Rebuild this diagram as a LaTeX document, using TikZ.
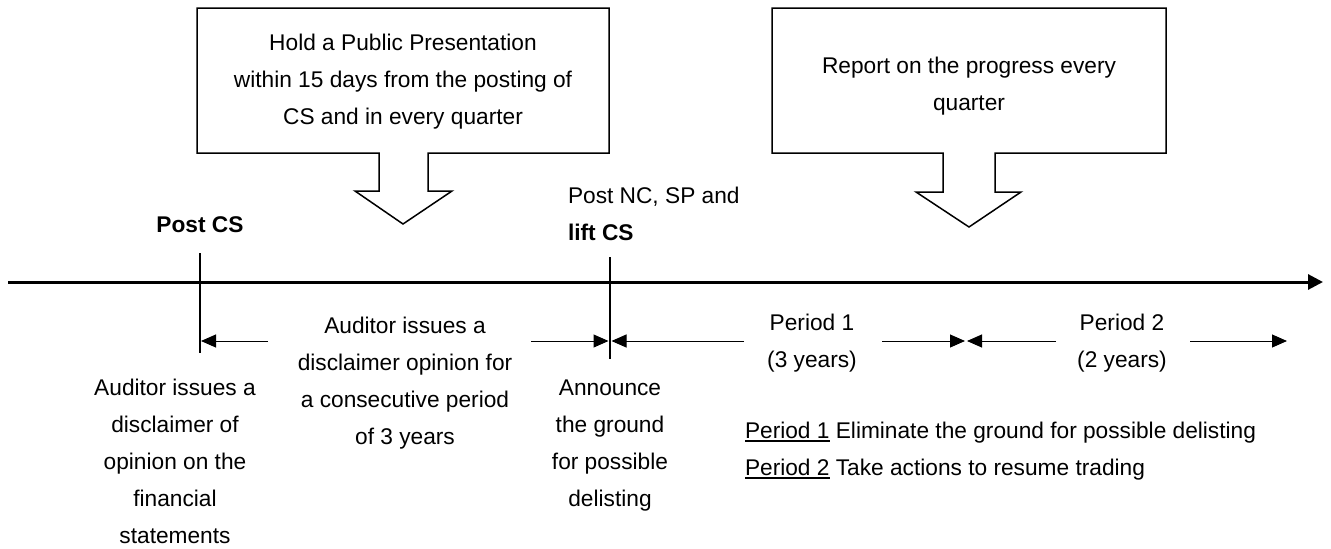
\documentclass[tikz,border=0pt]{standalone}
\usepackage{fontspec}
\setmainfont{Liberation Sans}
\usetikzlibrary{arrows.meta}
\newcommand\txtsize{\fontsize{22.7}{37}\selectfont}
% heavier underline for the legend keys
\newcommand\keyline[1]{\setbox0\hbox{#1}\rlap{\rule[-3.5pt]{\wd0}{2pt}}\box0\relax}
\begin{document}
\begin{tikzpicture}[x=1pt,y=-1pt,
  txt/.style={inner sep=0pt, outer sep=0pt, align=center, font=\txtsize},
  callout/.style={line width=1.5pt, line join=miter},
  axis/.style={line width=3pt, -{Triangle[length=15pt,width=15pt]}},
  tick/.style={line width=1.5pt},
  span/.style={line width=1pt, -{Triangle[length=15pt,width=13pt]}}]
\useasboundingbox (0,0) rectangle (1331,549);

% callout boxes with block arrows pointing down to the time line
\draw[callout] (197,8) -- (609,8) -- (609,153) -- (428,153) -- (428,191)
  -- (452,191) -- (403,224) -- (355,191) -- (379,191) -- (379,153)
  -- (197,153) -- cycle;
\draw[callout] (772,8) -- (1166,8) -- (1166,153) -- (995,153) -- (995,192)
  -- (1021,192) -- (969,227) -- (916,192) -- (943,192) -- (943,153)
  -- (772,153) -- cycle;
% (multi-line nodes: the base anchor sits on the last line)
\node[txt, anchor=base] (pres) at (403,124)
  {Hold a Public Presentation\\within 15 days from the posting of\\CS and in every quarter};
\node[txt, anchor=base] (rep) at (969,110) {Report on the progress every\\quarter};

% time line
\coordinate (ax0) at (8,282);
\coordinate (ax1) at (1323,282);
\draw[axis] (ax0) -- (ax1);

% milestones
\coordinate (m1t) at (200,253);
\coordinate (m1b) at (200,353);
\coordinate (m2t) at (610,257);
\coordinate (m2b) at (610,359);
\draw[tick] (m1t) -- (m1b);
\draw[tick] (m2t) -- (m2b);

\node[txt, anchor=base, font=\txtsize\bfseries] (postcs) at (200,232) {Post CS};
\node[txt, anchor=base west, align=left] (postnc) at (568,240)
  {Post NC, SP and\\\textbf{lift CS}};

% spans between milestones
\coordinate (a1s) at (268,341);  \coordinate (a1e) at (201,341);
\coordinate (a2s) at (531,341);  \coordinate (a2e) at (608.5,341);
\coordinate (a3s) at (744,341);  \coordinate (a3e) at (611.5,341);
\coordinate (a4s) at (882,341);  \coordinate (a4e) at (965,341);
\coordinate (a5s) at (1056,341); \coordinate (a5e) at (967,341);
\coordinate (a6s) at (1190,341); \coordinate (a6e) at (1287,341);
\draw[span] (a1s) -- (a1e);
\draw[span] (a2s) -- (a2e);
\draw[span] (a3s) -- (a3e);
\draw[span] (a4s) -- (a4e);
\draw[span] (a5s) -- (a5e);
\draw[span] (a6s) -- (a6e);

\node[txt, anchor=base] (aud3) at (405,444)
  {Auditor issues a\\disclaimer opinion for\\a consecutive period\\of 3 years};
\node[txt, anchor=base] (p1) at (812,367) {Period 1\\(3 years)};
\node[txt, anchor=base] (p2) at (1122,367) {Period 2\\(2 years)};

% descriptions under the milestones
\node[txt, anchor=base] (aud1) at (175,543)
  {Auditor issues a\\disclaimer of\\opinion on the\\financial\\statements};
\node[txt, anchor=base] (ann) at (610,506)
  {Announce\\the ground\\for possible\\delisting};

% legend
\node[txt, anchor=base west, align=left] (legend) at (745,475)
  {\keyline{Period 1} Eliminate the ground for possible delisting\\
   \keyline{Period 2} Take actions to resume trading};
\end{tikzpicture}
\end{document}
